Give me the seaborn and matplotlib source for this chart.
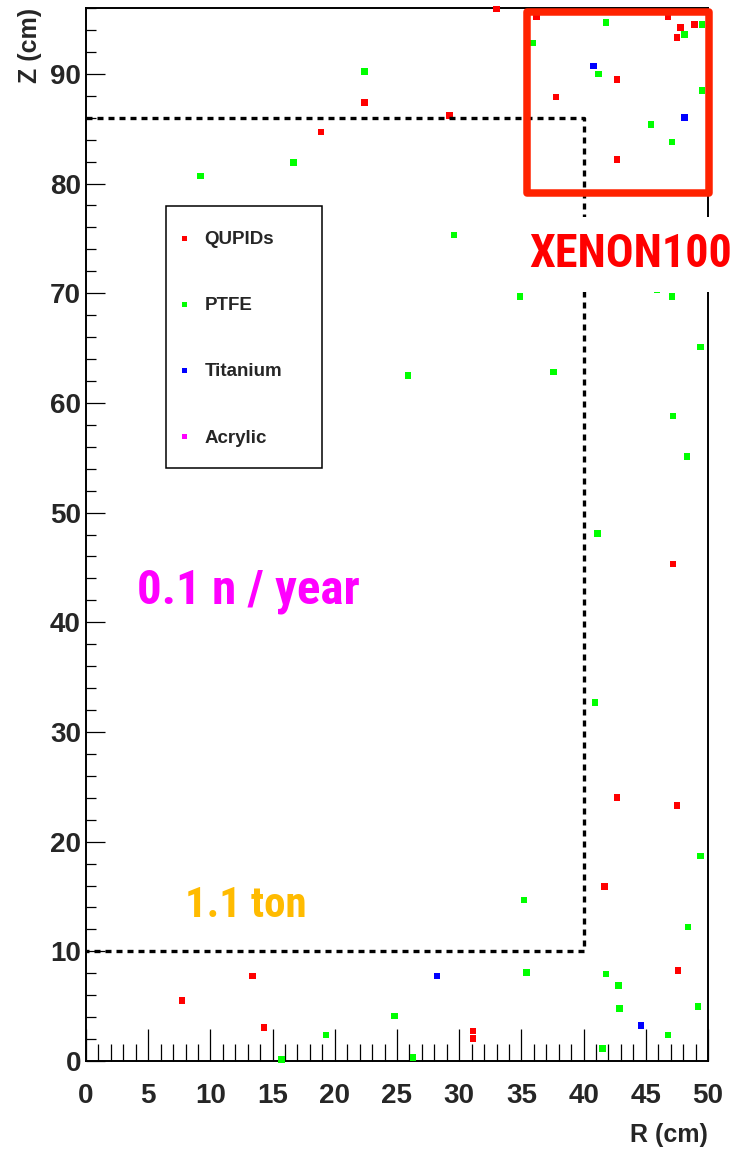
import matplotlib
matplotlib.use("Agg")
import matplotlib.pyplot as plt
import pandas as pd
import seaborn as sns
from matplotlib import font_manager as fm
from matplotlib.lines import Line2D
from matplotlib.patches import Rectangle
from matplotlib.ticker import MultipleLocator

# ---------------- data ----------------
materials = ["QUPIDs", "PTFE", "Titanium", "Acrylic"]
material_colors = ["#ff0000", "#00ff00", "#0000ff", "#ff00ff"]

qupids_r = [33.0, 36.2, 46.8, 47.8, 48.9, 47.5, 42.7, 37.8, 42.7, 22.4, 29.2,
            18.9, 47.2, 42.7, 47.5, 41.7, 7.7, 13.4, 14.3, 31.1, 31.1, 47.6]
qupids_z = [95.9, 95.2, 95.2, 94.2, 94.5, 93.3, 89.5, 87.9, 82.2, 87.4, 86.2,
            84.7, 45.3, 24.0, 23.3, 15.9, 5.5, 7.75, 3.07, 2.73, 2.03, 8.27]

ptfe_r = [41.8, 49.5, 48.1, 35.9, 41.2, 49.5, 45.4, 47.1, 22.4, 16.7, 9.2, 29.6,
          34.9, 45.9, 47.1, 49.4, 25.9, 37.6, 47.2, 48.3, 41.1, 40.9, 49.4, 48.4,
          35.2, 15.7, 19.3, 24.8, 26.3, 35.4, 41.5, 41.8, 42.8, 42.9, 46.8, 49.2]
ptfe_z = [94.7, 94.5, 93.6, 92.8, 90.0, 88.5, 85.4, 83.8, 90.2, 81.9, 80.7, 75.3,
          69.7, 70.3, 69.7, 65.1, 62.5, 62.8, 58.8, 55.1, 48.1, 32.7, 18.7, 12.2,
          14.7, 0.15, 2.37, 4.1, 0.3, 8.08, 1.15, 7.93, 6.87, 4.8, 2.37, 4.98]

titanium_r = [40.8, 48.1, 28.2, 44.6]
titanium_z = [90.7, 86.0, 7.75, 3.25]

acrylic_r = []
acrylic_z = []

# fiducial volume outline (R, Z)
fid_r = [0, 40, 40, 0]
fid_z = [86, 86, 10, 10]

# XENON100 comparison box (R0, Z0, R1, Z1)
xenon_box = [35.43, 79.1, 50.1, 95.65]

x_ticks = [0, 5, 10, 15, 20, 25, 30, 35, 40, 45, 50]
y_ticks = [0, 10, 20, 30, 40, 50, 60, 70, 80, 90]

# ---------------- frame ----------------
df = pd.DataFrame({
    "R": qupids_r + ptfe_r + titanium_r + acrylic_r,
    "Z": qupids_z + ptfe_z + titanium_z + acrylic_z,
    "material": (["QUPIDs"] * len(qupids_r) + ["PTFE"] * len(ptfe_r)
                 + ["Titanium"] * len(titanium_r) + ["Acrylic"] * len(acrylic_r)),
})

sns.set_theme(style="white")
plt.rcParams["font.family"] = ["Liberation Sans", "DejaVu Sans"]

# pick a narrow / condensed sans family if one is installed
avail = sorted({f.name for f in fm.fontManager.ttflist})
narrow_pick = None
for pref in ["Liberation Sans Narrow", "Arial Narrow", "Roboto Condensed",
             "Open Sans Condensed", "Noto Sans Condensed", "DejaVu Sans Condensed"]:
    if pref in avail:
        narrow_pick = pref
        break
if narrow_pick is None:
    for n in avail:
        if ("Narrow" in n or "Condensed" in n) and "Mono" not in n and "Serif" not in n:
            narrow_pick = n
            break
narrow = ([narrow_pick] if narrow_pick else []) + ["Liberation Sans", "DejaVu Sans"]

fig = plt.figure(figsize=(7.4, 11.6), dpi=100)
ax = fig.add_axes([86 / 740, 99 / 1160, 622 / 740, 1053 / 1160])

palette = dict(zip(materials, material_colors))
sns.scatterplot(data=df, x="R", y="Z", hue="material", hue_order=materials,
                palette=palette, marker="s", s=22, linewidth=0, legend=False,
                ax=ax, clip_on=False, zorder=3)

ax.set_xlim(0, 50)
ax.set_ylim(0, 96)

# fiducial dotted outline
ax.plot(fid_r, fid_z, color="black", lw=2.4, linestyle=(0, (1.8, 1.5)),
        zorder=4, solid_capstyle="butt", dash_capstyle="butt")

# XENON100 box
ax.add_patch(Rectangle((xenon_box[0], xenon_box[1]), xenon_box[2] - xenon_box[0],
                       xenon_box[3] - xenon_box[1], fill=False, edgecolor="#ff2200",
                       lw=5.4, joinstyle="round", clip_on=False, zorder=6))

t_xenon = ax.text(35.67, 72.35, "XENON100", color="#ff0000", fontsize=35.5,
                  fontweight="bold", family=narrow, ha="left", va="baseline", zorder=7,
                  bbox=dict(facecolor="white", edgecolor="none", pad=12))
t_rate = ax.text(4.08, 41.7, "0.1 n / year", color="#ff00ff", fontsize=38,
                 fontweight="bold", family=narrow, ha="left", va="baseline", zorder=7)
t_mass = ax.text(7.97, 13.15, "1.1 ton", color="#ffbb00", fontsize=33.5,
                 fontweight="bold", family=narrow, ha="left", va="baseline", zorder=7)

# fit the annotation widths to the reference
renderer = fig.canvas.get_renderer()
for t, target in [(t_xenon, 203.0), (t_rate, 223.0), (t_mass, 122.0)]:
    w = t.get_window_extent(renderer).width
    t.set_fontsize(t.get_fontsize() * target / w)

# ticks
ax.set_xticks(x_ticks)
ax.set_yticks(y_ticks)
ax.xaxis.set_minor_locator(MultipleLocator(1))
ax.yaxis.set_minor_locator(MultipleLocator(2))
ax.tick_params(axis="x", which="major", direction="in", length=22.8, width=0.9,
               bottom=True, top=False, pad=16, labelsize=20, color="black")
ax.tick_params(axis="x", which="minor", direction="in", length=12, width=0.9,
               bottom=True, top=False, color="black")
ax.tick_params(axis="y", which="major", direction="in", length=13.7, width=0.9,
               left=True, right=False, pad=3.6, labelsize=20, color="black")
ax.tick_params(axis="y", which="minor", direction="in", length=7, width=0.9,
               left=True, right=False, color="black")
for lab in ax.get_xticklabels() + ax.get_yticklabels():
    lab.set_fontweight("bold")

for s in ax.spines.values():
    s.set_color("black")
    s.set_linewidth(1.4)
    s.set_visible(True)

ax.set_xlabel("R (cm)", loc="right", fontsize=18, fontweight="bold", labelpad=10)
ax.set_ylabel("Z (cm)", loc="top", fontsize=18, fontweight="bold", labelpad=6)

# legend (ROOT-style fixed box)
ax.add_patch(Rectangle((0.1281, 0.5629), 0.2508, 0.2494, transform=ax.transAxes,
                       fill=False, edgecolor="black", lw=1.1, zorder=5))
handles = [Line2D([], [], marker="s", linestyle="none", markersize=3.6,
                  markerfacecolor=c, markeredgewidth=0) for c in material_colors]
leg = ax.legend(handles, materials, loc="upper left", bbox_to_anchor=(0.1447, 0.788),
                frameon=False, borderpad=0, borderaxespad=0, handlelength=0.9,
                handletextpad=0.62, labelspacing=2.61,
                prop=dict(family="Liberation Sans", weight="bold", size=13.5))
leg.set_zorder(6)

fig.savefig("out.png", dpi=100, facecolor="white")
